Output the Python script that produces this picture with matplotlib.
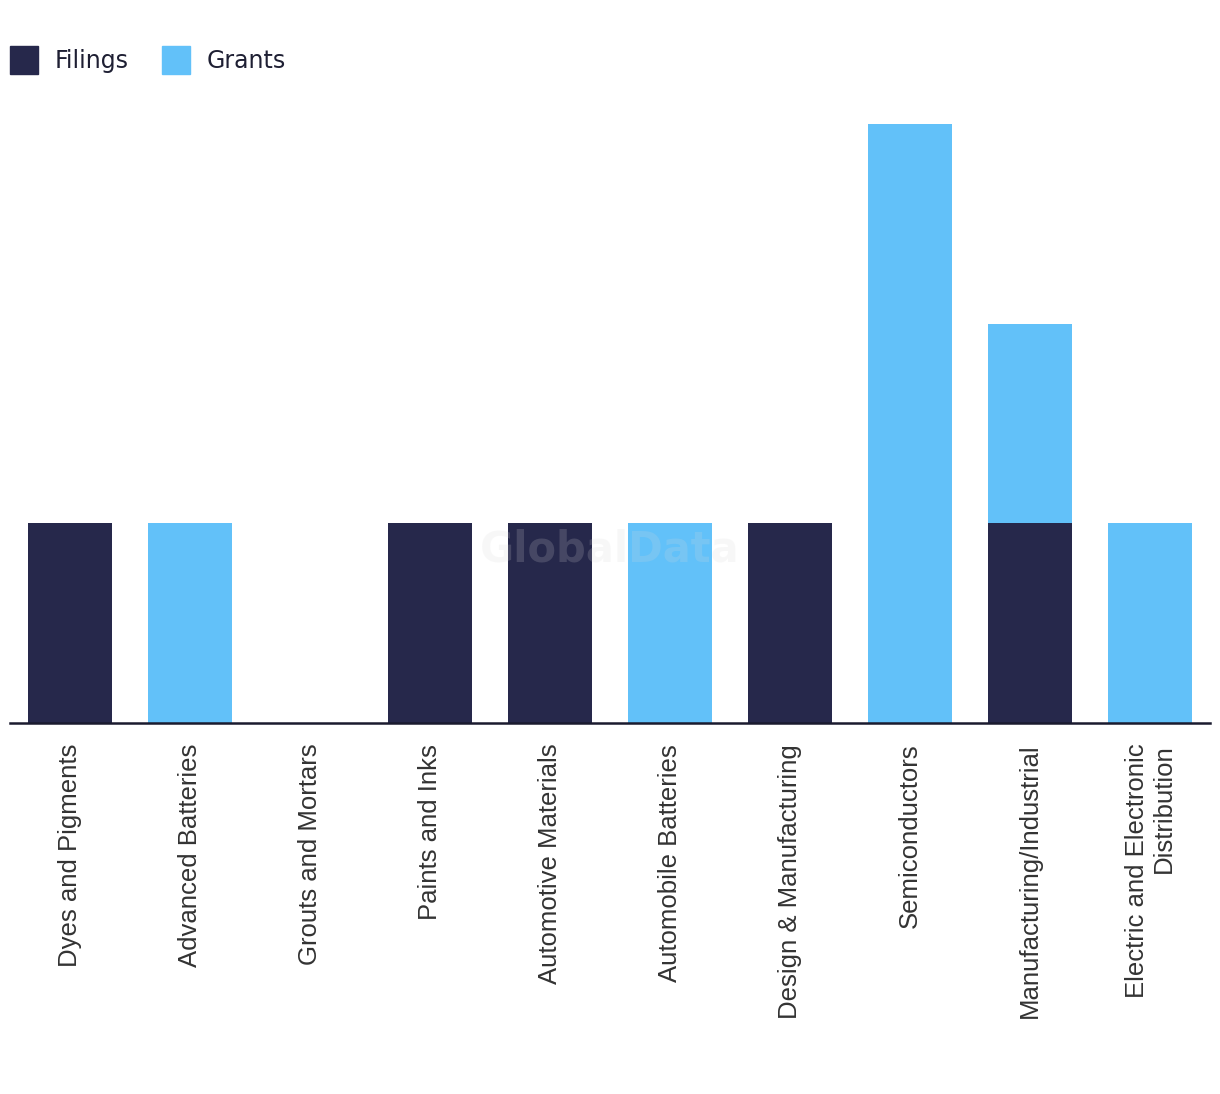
import numpy as np
import matplotlib.pyplot as plt
from matplotlib.patches import Patch

categories = ["Dyes and Pigments", "Advanced Batteries", "Grouts and Mortars",
              "Paints and Inks", "Automotive Materials", "Automobile Batteries",
              "Design & Manufacturing", "Semiconductors", "Manufacturing/Industrial",
              "Electric and Electronic\nDistribution"]
filings = [1, 0, 0, 1, 1, 0, 1, 0, 1, 0]
grants = [0, 1, 0, 0, 0, 1, 0, 3, 1, 1]

navy = "#26284b"
blue = "#62c1f9"

fig = plt.figure(figsize=(12.2, 10.94), dpi=100)
ax = fig.add_axes([10/1220, 371/1094, 1200/1220, 599/1094])

x = np.arange(len(categories))
ax.bar(x, filings, width=0.7, color=navy)
ax.bar(x, grants, width=0.7, bottom=filings, color=blue)

ax.set_xlim(-0.5, len(categories) - 0.5)
ax.set_ylim(0, 3)
ax.set_yticks([])
for s in ["top", "right", "left"]:
    ax.spines[s].set_visible(False)
ax.spines["bottom"].set_color("#1a1a2e")
ax.spines["bottom"].set_linewidth(1.8)

ax.set_xticks(x)
ax.set_xticklabels(categories, rotation=90, fontsize=18.5, color="#333333",
                   family="Liberation Sans", ha="center", va="top",
                   multialignment="right", linespacing=1.15)
ax.tick_params(axis="x", length=0, pad=15)

ax.text(0.5, 0.29, "GlobalData", transform=ax.transAxes, ha="center", va="center",
        fontsize=30, fontweight="bold", color="#d8d8d8", alpha=0.18, zorder=5)

handles = [Patch(color=navy, label="Filings"), Patch(color=blue, label="Grants")]
fig.legend(handles=handles, loc="upper left", bbox_to_anchor=(10/1220, 1 - 46/1094),
           ncol=2, frameon=False, fontsize=17, handlelength=1.2, handleheight=1.45,
           handletextpad=0.7, columnspacing=1.4, borderpad=0, borderaxespad=0,
           labelcolor="#1e1f33")

fig.savefig("out.png", dpi=100)
